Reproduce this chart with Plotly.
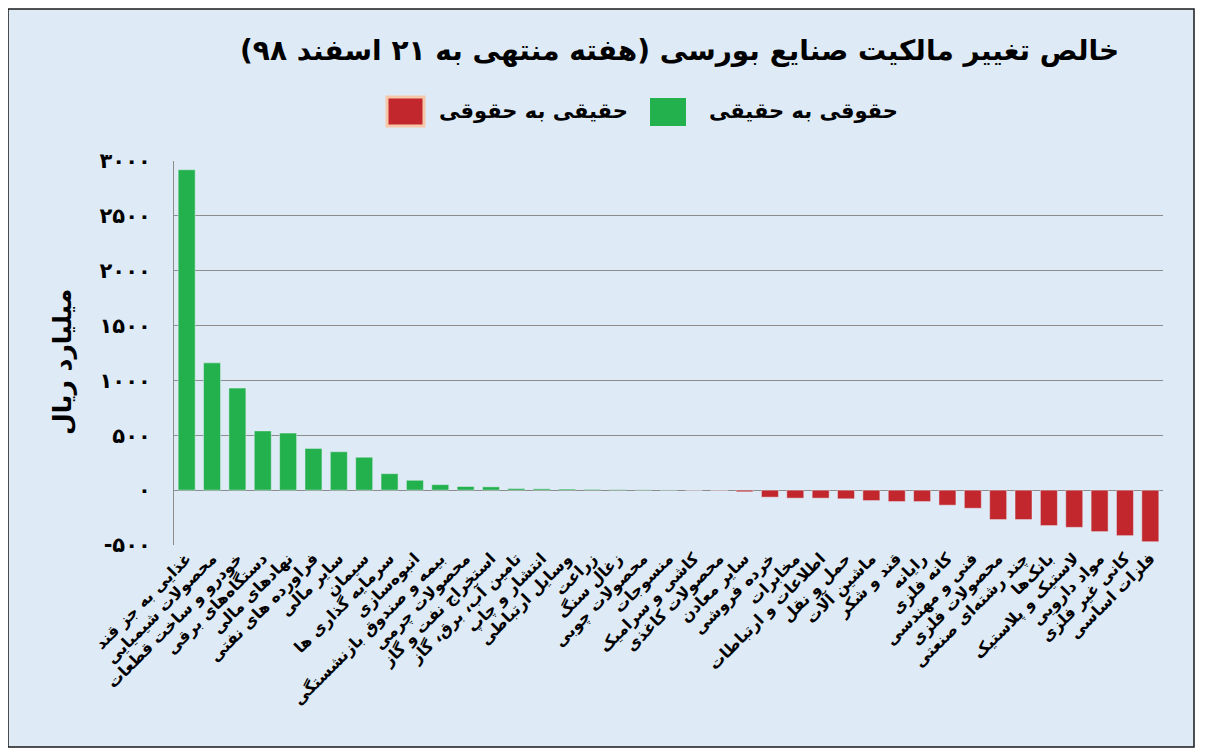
import plotly.graph_objects as go

# صنایع بورسی — خالص تغییر مالکیت (میلیارد ریال)
categories = [
    "غذایی به جز قند", "محصولات شیمیایی", "خودرو و ساخت قطعات", "دستگاه‌های برقی",
    "نهادهای مالی", "فراورده های نفتی", "سایر مالی", "سیمان", "سرمایه گذاری ها",
    "انبوه‌سازی", "بیمه و صندوق بازنشستگی", "محصولات چرمی", "استخراج نفت و گاز",
    "تامین آب، برق، گاز", "انتشار و چاپ", "وسایل ارتباطی", "زراعت", "زغال سنگ",
    "محصولات چوبی", "منسوجات", "کاشی و سرامیک", "محصولات کاغذی", "سایر معادن",
    "خرده فروشی", "مخابرات", "اطلاعات و ارتباطات", "حمل و نقل", "ماشین آلات",
    "قند و شکر", "رایانه", "کانه فلزی", "فنی و مهندسی", "محصولات فلزی",
    "چند رشته‌ای صنعتی", "بانک‌ها", "لاستیک و پلاستیک", "مواد دارویی",
    "کانی غیر فلزی", "فلزات اساسی",
]
values = [
    2920, 1160, 930, 540, 520, 380, 350, 300, 150, 90, 50, 33, 30,
    15, 12, 10, 7, 5, 3, 2, -2, -4, -15,
    -64, -73, -73, -79, -95, -104, -104, -137, -165, -268,
    -268, -323, -339, -378, -415, -470,
]
y_ticks = [-500, 0, 500, 1000, 1500, 2000, 2500, 3000]
y_tick_text = ["-۵۰۰", "۰", "۵۰۰", "۱۰۰۰", "۱۵۰۰", "۲۰۰۰", "۲۵۰۰", "۳۰۰۰"]

title_text = "خالص تغییر مالکیت صنایع بورسی (هفته منتهی به ۲۱ اسفند ۹۸)"
legend_green = "حقوقی به حقیقی"
legend_red = "حقیقی به حقوقی"
y_title = "میلیارد ریال"

GREEN = "#22b14c"
RED = "#c1272d"
BG = "#deebf6"
FONT = "DejaVu Sans"

# page pixels (the page body adds an 8px offset to the figure)
OFF = 8
W, H = 1205, 756
L, R, T, B = 174, 1163, 161, 545


def px(x):
    return (x - L) / (R - L)


def py(y):
    return (B - y) / (B - T)


pos = [v if v >= 0 else None for v in values]
neg = [v if v < 0 else None for v in values]

fig = go.Figure()
fig.add_trace(go.Bar(x=categories, y=pos, marker_color=GREEN, showlegend=False))
fig.add_trace(go.Bar(x=categories, y=neg, marker_color=RED, showlegend=False))

fig.update_layout(
    width=W, height=H,
    margin=dict(l=L - OFF, r=W - (R - OFF), t=T - OFF, b=H - (B - OFF),
                autoexpand=False),
    paper_bgcolor="white", plot_bgcolor=BG,
    barmode="overlay", bargap=0.33,
    font=dict(family=FONT, color="black"),
)
fig.update_xaxes(
    tickangle=-45,
    tickfont=dict(size=16, family=FONT, color="black", weight="bold"),
    showgrid=False, ticks="", showline=False, automargin=False,
)
fig.update_yaxes(
    range=[-500, 3000], tickvals=y_ticks, ticktext=y_tick_text,
    tickfont=dict(size=21, family=FONT, color="black", weight="bold"),
    showgrid=True, gridcolor="#8c8c8c", gridwidth=1, zeroline=False,
    showline=True, linecolor="#8c8c8c", automargin=False,
    ticks="outside", ticklen=18, tickcolor="rgba(0,0,0,0)",
)

# frame + light background for the whole card
fig.add_shape(type="rect", xref="paper", yref="paper",
              x0=px(8), x1=px(1194), y0=py(747), y1=py(9),
              line=dict(color="#1a1a1a", width=1.5), fillcolor=BG, layer="below")

# title
fig.add_annotation(text=f"<b>{title_text}</b>", xref="paper", yref="paper",
                   x=px(1121), y=py(50), xanchor="right", yanchor="middle",
                   showarrow=False, font=dict(size=28, family=FONT, color="black"))

# legend drawn by hand (large swatches as in the original)
fig.add_shape(type="rect", xref="paper", yref="paper",
              x0=px(387), x1=px(424), y0=py(126), y1=py(97),
              line=dict(color="#f6c7a9", width=3), fillcolor=RED)
fig.add_annotation(text=f"<b>{legend_red}</b>", xref="paper", yref="paper",
                   x=px(630), y=py(111), xanchor="right", yanchor="middle",
                   showarrow=False, font=dict(size=21, family=FONT, color="black"))
fig.add_shape(type="rect", xref="paper", yref="paper",
              x0=px(650), x1=px(686), y0=py(126), y1=py(98),
              line=dict(width=0), fillcolor=GREEN)
fig.add_annotation(text=f"<b>{legend_green}</b>", xref="paper", yref="paper",
                   x=px(900), y=py(111), xanchor="right", yanchor="middle",
                   showarrow=False, font=dict(size=21, family=FONT, color="black"))

# y-axis title
fig.add_annotation(text=f"<b>{y_title}</b>", xref="paper", yref="paper",
                   x=px(62), y=py(362), xanchor="center", yanchor="middle",
                   textangle=-90, showarrow=False,
                   font=dict(size=25, family=FONT, color="black"))

fig.write_html("out.html")
